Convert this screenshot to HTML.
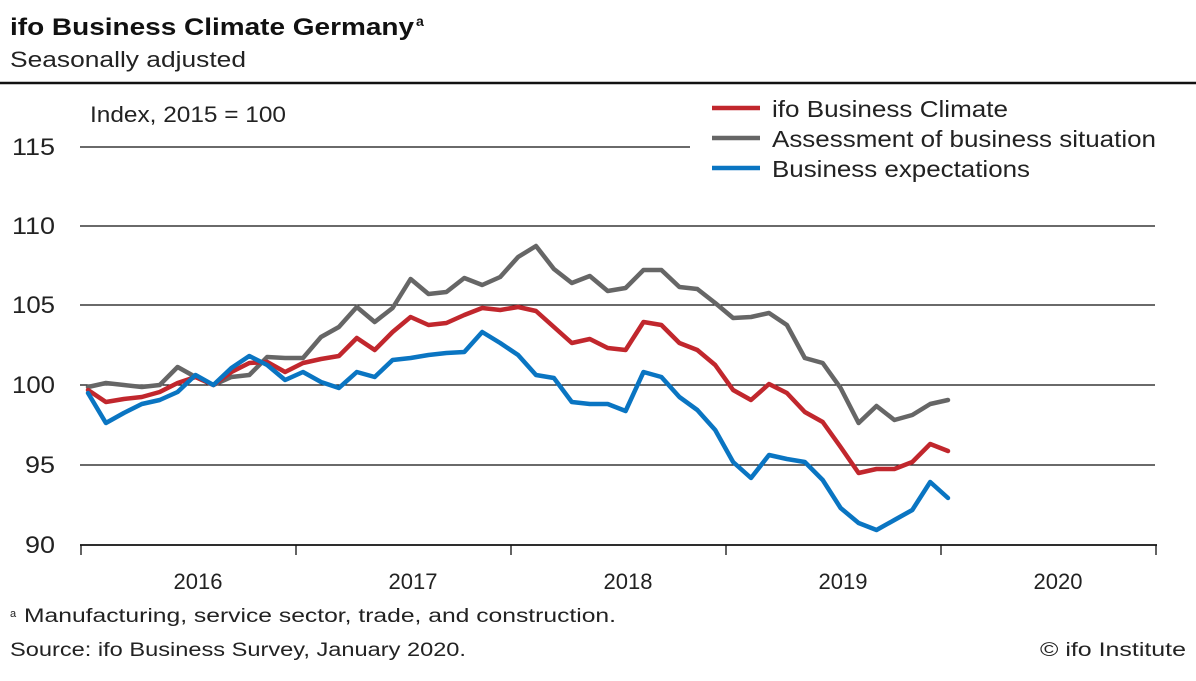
<!DOCTYPE html>
<html><head><meta charset="utf-8"><style>
html,body{margin:0;padding:0;background:#fff;}
svg{display:block;font-family:"Liberation Sans",sans-serif;}
</style></head><body>
<svg width="1196" height="681" viewBox="0 0 1196 681" xmlns="http://www.w3.org/2000/svg">
<rect width="1196" height="681" fill="#fff"/>
<text x="10" y="35" font-size="24" font-weight="bold" fill="#111" textLength="404" lengthAdjust="spacingAndGlyphs">ifo Business Climate Germany</text>
<text x="416" y="26" font-size="14" font-weight="bold" fill="#111">a</text>
<text x="10" y="67" font-size="22" fill="#222" textLength="236" lengthAdjust="spacingAndGlyphs">Seasonally adjusted</text>
<line x1="0" y1="83" x2="1196" y2="83" stroke="#111" stroke-width="2.5"/>
<text x="90" y="122" font-size="22" fill="#222" textLength="196" lengthAdjust="spacingAndGlyphs">Index, 2015 = 100</text>
<g stroke="#111" stroke-width="1.3">
<line x1="80" y1="147" x2="690" y2="147"/>
<line x1="80" y1="226" x2="1155" y2="226"/>
<line x1="80" y1="305" x2="1155" y2="305"/>
<line x1="80" y1="385" x2="1155" y2="385"/>
<line x1="80" y1="465" x2="1155" y2="465"/>
<line x1="80" y1="545" x2="1157" y2="545" stroke-width="1.8"/>
<line x1="81" y1="545" x2="81" y2="555"/><line x1="296" y1="545" x2="296" y2="555"/><line x1="511" y1="545" x2="511" y2="555"/><line x1="726" y1="545" x2="726" y2="555"/><line x1="941" y1="545" x2="941" y2="555"/><line x1="1156" y1="545" x2="1156" y2="555"/>
</g>
<g font-size="24" fill="#222">
<text x="12" y="155" textLength="43" lengthAdjust="spacingAndGlyphs">115</text><text x="12" y="234" textLength="43" lengthAdjust="spacingAndGlyphs">110</text><text x="12" y="313" textLength="43" lengthAdjust="spacingAndGlyphs">105</text><text x="12" y="393" textLength="43" lengthAdjust="spacingAndGlyphs">100</text><text x="25" y="473" textLength="30" lengthAdjust="spacingAndGlyphs">95</text><text x="25" y="553" textLength="30" lengthAdjust="spacingAndGlyphs">90</text>
</g>
<g font-size="22" fill="#222" text-anchor="middle">
<text x="198" y="589">2016</text><text x="413" y="589">2017</text><text x="628" y="589">2018</text><text x="843" y="589">2019</text><text x="1058" y="589">2020</text>
</g>
<g fill="none" stroke-width="4.5" stroke-linejoin="round" stroke-linecap="round">
<polyline stroke="#666" points="88,387 105.9,383 123.8,385 141.8,387 159.7,385 177.6,367 195.5,377 213.4,385 231.4,377 249.3,375 267.2,357 285.1,358 303,358 321,337 338.9,327 356.8,307 374.7,322 392.6,308 410.6,279 428.5,294 446.4,292 464.3,278 482.2,285 500.2,277 518.1,257 536,246 553.9,269 571.8,283 589.8,276 607.7,291 625.6,288 643.5,270 661.4,270 679.4,287 697.3,289 715.2,303 733.1,318 751,317 769,313 786.9,325 804.8,358 822.7,363 840.6,388 858.6,423 876.5,406 894.4,420 912.3,415 930.2,404 948,400"/>
<polyline stroke="#c1272d" points="88,390 105.9,402 123.8,399 141.8,397 159.7,392 177.6,383 195.5,377 213.4,385 231.4,372 249.3,363 267.2,362 285.1,372 303,363 321,359 338.9,356 356.8,338 374.7,350 392.6,332 410.6,317 428.5,325 446.4,323 464.3,315 482.2,308 500.2,310 518.1,307 536,311 553.9,327 571.8,343 589.8,339 607.7,348 625.6,350 643.5,322 661.4,325 679.4,343 697.3,350 715.2,365 733.1,390 751,400 769,384 786.9,393 804.8,412 822.7,422 840.6,447 858.6,473 876.5,469 894.4,469 912.3,462 930.2,444 948,451"/>
<polyline stroke="#0a75c2" points="88,393 105.9,423 123.8,413 141.8,404 159.7,400 177.6,392 195.5,375 213.4,385 231.4,368 249.3,356 267.2,365 285.1,380 303,372 321,382 338.9,388 356.8,372 374.7,377 392.6,360 410.6,358 428.5,355 446.4,353 464.3,352 482.2,332 500.2,343 518.1,355 536,375 553.9,378 571.8,402 589.8,404 607.7,404 625.6,411 643.5,372 661.4,377 679.4,397 697.3,410 715.2,430 733.1,462 751,478 769,455 786.9,459 804.8,462 822.7,480 840.6,508 858.6,523 876.5,530 894.4,520 912.3,510 930.2,482 948,498"/>
</g>
<g stroke-width="4.5">
<line x1="712" y1="108" x2="760" y2="108" stroke="#c1272d"/>
<line x1="712" y1="138" x2="760" y2="138" stroke="#666"/>
<line x1="712" y1="168" x2="760" y2="168" stroke="#0a75c2"/>
</g>
<g font-size="23" fill="#222">
<text x="772" y="117" textLength="236" lengthAdjust="spacingAndGlyphs">ifo Business Climate</text>
<text x="772" y="147" textLength="384" lengthAdjust="spacingAndGlyphs">Assessment of business situation</text>
<text x="772" y="177" textLength="258" lengthAdjust="spacingAndGlyphs">Business expectations</text>
</g>
<text x="10" y="617" font-size="11" fill="#222">a</text>
<text x="24" y="622" font-size="19" fill="#222" textLength="592" lengthAdjust="spacingAndGlyphs">Manufacturing, service sector, trade, and construction.</text>
<text x="10" y="656" font-size="19" fill="#222" textLength="456" lengthAdjust="spacingAndGlyphs">Source: ifo Business Survey, January 2020.</text>
<text x="1186" y="656" font-size="19" fill="#222" text-anchor="end" textLength="146" lengthAdjust="spacingAndGlyphs">© ifo Institute</text>
</svg>
</body></html>
